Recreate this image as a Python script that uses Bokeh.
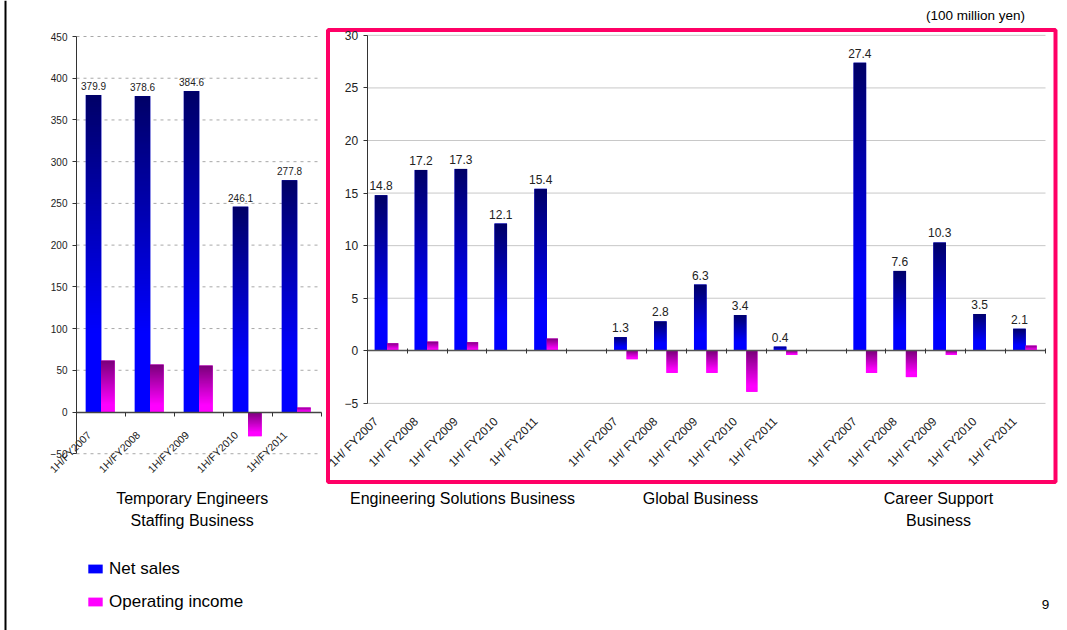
import math
import numpy as np
from bokeh.plotting import figure
from bokeh.models import (Range1d, LinearAxis, FixedTicker, ColumnDataSource,
                          Legend, LegendItem, Grid)
from bokeh.core.properties import value
from bokeh.embed import file_html
from bokeh.resources import INLINE

# ---------------- data ----------------
categories = ["1H/FY2007", "1H/FY2008", "1H/FY2009", "1H/FY2010", "1H/FY2011"]
right_categories = ["1H/ FY2007", "1H/ FY2008", "1H/ FY2009", "1H/ FY2010", "1H/ FY2011"]

staffing_sales = [379.9, 378.6, 384.6, 246.1, 277.8]
staffing_income = [61.7, 56.9, 55.7, -29.0, 5.4]

es_sales = [14.8, 17.2, 17.3, 12.1, 15.4]
es_income = [0.72, 0.88, 0.82, 0.05, 1.17]

global_sales = [1.3, 2.8, 6.3, 3.4, 0.4]
global_income = [-0.8, -2.1, -2.1, -3.9, -0.4]

career_sales = [27.4, 7.6, 10.3, 3.5, 2.1]
career_income = [-2.1, -2.5, -0.4, 0.05, 0.5]

left_ticks = [-50, 0, 50, 100, 150, 200, 250, 300, 350, 400, 450]
right_ticks = [-5, 0, 5, 10, 15, 20, 25, 30]

group_titles = ["Temporary Engineers\nStaffing Business",
                "Engineering Solutions Business",
                "Global Business",
                "Career Support\nBusiness"]
legend_labels = ["Net sales", "Operating income"]
unit_note = "(100 million yen)"
page_number = "9"

# ---------------- layout ----------------
W, H = 1067, 630
X0, Y0 = 0, 0
FONT = "Liberation Sans"
TXT = "#222222"

p = figure(width=W, height=H, x_range=Range1d(X0, X0 + W),
           y_range=Range1d(Y0 + H, Y0), x_axis_location=None,
           y_axis_location=None, toolbar_location=None, output_backend="svg",
           min_border=0, outline_line_color=None)
p.center = [c for c in p.center if not isinstance(c, Grid)]


def xrange_for(px_origin, px_per_unit, v_origin):
    return Range1d(v_origin + (X0 - px_origin) / px_per_unit,
                   v_origin + (X0 + W - px_origin) / px_per_unit)


def yrange_for(py_zero, px_per_unit):
    return Range1d((py_zero - (Y0 + H)) / px_per_unit,
                   (py_zero - Y0) / px_per_unit)


L_SLOT, R_SLOT = 49.0, 39.9
p.extra_x_ranges = {"Lx": xrange_for(76.0, L_SLOT, -0.5),
                    "Rx": xrange_for(366.7, R_SLOT, -0.5)}
p.extra_y_ranges = {"Ly": yrange_for(411.5, 375.5 / 450.0),
                    "Ry": yrange_for(350.3, 10.515)}

NAVY, BLUE = (0, 0, 0x66), (0, 0, 0xFF)
PURPLE, MAGENTA = (0x78, 0, 0x78), (0xFF, 0, 0xFF)


def gradient_image(c_top, c_bot, reach, rows=128):
    """Vertical gradient texture (row 0 = bottom of the bar)."""
    img = np.zeros((rows, 1), dtype=np.uint32)
    view = img.view(dtype=np.uint8).reshape((rows, 1, 4))
    for k in range(rows):
        t = 1.0 - (k + 0.5) / rows          # 0 at the top edge, 1 at the bottom
        f = min(t / reach, 1.0)
        for ch in range(3):
            view[k, 0, ch] = int(round(c_top[ch] + (c_bot[ch] - c_top[ch]) * f))
        view[k, 0, 3] = 255
    return img


SALES_IMG = gradient_image(NAVY, BLUE, 0.75)
INCOME_IMG = gradient_image(PURPLE, MAGENTA, 0.85)


def bars(xn, yn, xs, vals, l_off, r_off, solid, img):
    src = ColumnDataSource(dict(left=[x + l_off for x in xs],
                                right=[x + r_off for x in xs],
                                top=[max(v, 0) for v in vals],
                                bottom=[min(v, 0) for v in vals]))
    r = p.quad(left="left", right="right", top="top", bottom="bottom",
               fill_color="#%02x%02x%02x" % solid, line_color=None, source=src,
               x_range_name=xn, y_range_name=yn)
    p.image_rgba(image=[img] * len(xs), x=[x + l_off for x in xs],
                 y=[min(v, 0) for v in vals], dw=[r_off - l_off] * len(xs),
                 dh=[abs(v) for v in vals], x_range_name=xn, y_range_name=yn)
    return r


def draw_chart(xn, yn, xs, sales, income, ticks, x_lo, x_hi, dash, grid_color, label_size):
    gt = [t for t in ticks if t != 0]
    p.segment(x0=[x_lo] * len(gt), x1=[x_hi] * len(gt), y0=gt, y1=gt,
              line_color=grid_color, line_width=1, line_dash=dash,
              x_range_name=xn, y_range_name=yn)
    r_s = bars(xn, yn, xs, sales, -0.31, 0.005, BLUE, SALES_IMG)
    r_i = bars(xn, yn, xs, income, 0.0, 0.28, MAGENTA, INCOME_IMG)
    p.text(x=[x - 0.1525 for x in xs], y=sales, text=["%.1f" % v for v in sales],
           text_align="center", text_baseline="bottom", y_offset=-5,
           text_font=value(FONT), text_font_size=label_size, text_color=TXT,
           x_range_name=xn, y_range_name=yn)
    yax = LinearAxis(x_range_name=xn, y_range_name=yn, fixed_location=x_lo,
                     bounds=(ticks[0], ticks[-1]), ticker=FixedTicker(ticks=ticks),
                     major_tick_out=4, major_tick_in=0, minor_tick_line_color=None,
                     axis_line_color="#333333", major_tick_line_color="#333333",
                     major_label_text_font=FONT, major_label_text_color=TXT,
                     major_label_text_font_size=label_size,
                     major_label_standoff=5)
    p.add_layout(yax, "left")
    return r_s, r_i


# ----- left chart: Temporary Engineers Staffing -----
n = len(categories)
lx = list(range(n))
l_bounds = [i - 0.5 for i in range(n + 1)]
rs_l, ri_l = draw_chart("Lx", "Ly", lx, staffing_sales, staffing_income,
                        left_ticks, -0.5, n - 0.5, "3 4", "#A8A8A8", "10px")
xax_l0 = LinearAxis(x_range_name="Lx", y_range_name="Ly", fixed_location=0,
                    bounds=(-0.5, n - 0.5),
                    ticker=FixedTicker(ticks=[], minor_ticks=l_bounds),
                    major_tick_line_color=None, minor_tick_in=0, minor_tick_out=4,
                    minor_tick_line_color="#333333", axis_line_color="#444444",
                    axis_line_width=1.5)
p.add_layout(xax_l0, "below")
l_lab = [x - 12.0 / L_SLOT for x in lx]
xax_ll = LinearAxis(x_range_name="Lx", y_range_name="Ly", fixed_location=0,
                    ticker=FixedTicker(ticks=l_lab),
                    major_label_overrides={t: c for t, c in zip(l_lab, categories)},
                    major_label_orientation=math.pi / 4,
                    axis_line_color=None, major_tick_line_color=None,
                    minor_tick_line_color=None, major_label_text_font=FONT,
                    major_label_text_font_size="10.5px", major_label_text_color=TXT,
                    major_label_standoff=15)
p.add_layout(xax_ll, "below")

# ----- right chart: ES / Global / Career -----
rx = list(range(0, n)) + list(range(n + 1, 2 * n + 1)) + list(range(2 * n + 2, 3 * n + 2))
r_sales = es_sales + global_sales + career_sales
r_income = es_income + global_income + career_income
r_slots = 3 * n + 2
r_bounds = [i - 0.5 for i in range(r_slots + 1)]
draw_chart("Rx", "Ry", rx, r_sales, r_income, right_ticks, -0.5, r_slots - 0.5,
           "solid", "#C8C8C8", "12px")

xax_r0 = LinearAxis(x_range_name="Rx", y_range_name="Ry", fixed_location=0,
                    bounds=(-0.5, r_slots - 0.5),
                    ticker=FixedTicker(ticks=[], minor_ticks=r_bounds),
                    major_tick_line_color=None, minor_tick_in=2, minor_tick_out=3,
                    minor_tick_line_color="#333333", axis_line_color="#555555",
                    axis_line_width=1.5)
p.add_layout(xax_r0, "below")
r_lab = [x - 11.0 / R_SLOT for x in rx]
xax_rl = LinearAxis(x_range_name="Rx", y_range_name="Ry", fixed_location=right_ticks[0],
                    ticker=FixedTicker(ticks=r_lab),
                    major_label_overrides={t: right_categories[i % n] for i, t in enumerate(r_lab)},
                    major_label_orientation=math.pi / 4,
                    axis_line_color=None, major_tick_line_color=None,
                    minor_tick_line_color=None, major_label_text_font=FONT,
                    major_label_text_font_size="12px", major_label_text_color=TXT,
                    major_label_standoff=10)
p.add_layout(xax_rl, "below")

# ----- frame decorations (page coordinates) -----
p.quad(left=[327.5], right=[1055], top=[29.5], bottom=[481.5], fill_color=None,
       line_color="#FF0066", line_width=4)
p.segment(x0=[5], x1=[5], y0=[Y0], y1=[Y0 + H], line_color="black", line_width=2)

p.text(x=[191.7, 462, 700, 938], y=[489, 489, 489, 489], text=group_titles,
       text_align="center", text_baseline="top", text_line_height=1.3,
       text_font=value(FONT), text_font_size="16px", text_color="black")
p.text(x=[975], y=[15], text=[unit_note], text_align="center", text_baseline="middle",
       text_font=value(FONT), text_font_size="13.5px", text_color="black")
p.text(x=[1045], y=[604], text=[page_number], text_align="center", text_baseline="middle",
       text_font=value(FONT), text_font_size="13.5px", text_color="black")

legend = Legend(items=[LegendItem(label=legend_labels[0], renderers=[rs_l]),
                       LegendItem(label=legend_labels[1], renderers=[ri_l])],
                location=(86 - X0, Y0 + H - 611.7), orientation="vertical",
                glyph_width=18, glyph_height=11, label_height=20, label_standoff=5,
                spacing=13, padding=0, margin=0, border_line_color=None,
                background_fill_alpha=0, label_text_font=FONT,
                label_text_font_size="17px", label_text_color="black")
p.add_layout(legend)

open("out.html", "w").write(file_html(p, INLINE))
